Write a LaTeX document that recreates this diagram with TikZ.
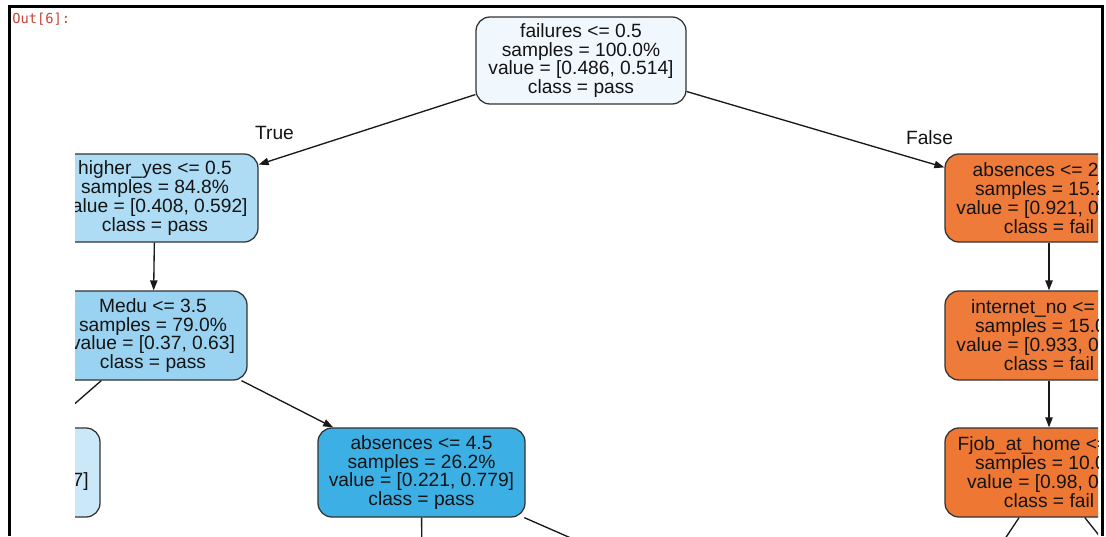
\documentclass[tikz,border=0pt]{standalone}
\usepackage{fontspec}
\setmainfont{Liberation Sans}
\newfontfamily\monofnt{DejaVu Sans Mono}
\usetikzlibrary{arrows.meta}
\definecolor{rootfill}{HTML}{F1F8FD}
\definecolor{hyfill}{HTML}{AEDCF4}
\definecolor{medufill}{HTML}{99D3F1}
\definecolor{lbfill}{HTML}{CBE8F8}
\definecolor{abfill}{HTML}{3CB0E5}
\definecolor{orfill}{HTML}{EF7B3B}
\definecolor{fjfill}{HTML}{EE7734}
\definecolor{nodeborder}{HTML}{333333}
\definecolor{outred}{HTML}{C9453A}
\begin{document}
\begin{tikzpicture}[x=0.75pt,y=-0.75pt,
  tnode/.style={draw=nodeborder, line width=0.95pt, rounded corners=10.5pt, inner sep=0pt,
    align=center, font=\fontsize{14.4}{14.2}\selectfont, text=black!92},
  lbl/.style={inner sep=0pt, font=\fontsize{14.4}{14.2}\selectfont, text=black!92},
  edge/.style={draw=black!90, line width=1pt, -{Triangle[length=7.5pt,width=5.5pt]}},
  plainedge/.style={draw=black!90, line width=1pt}]
\fill[white] (0,0) rectangle (1106,536);
\useasboundingbox (0,0) rectangle (1106,536);

% notebook frame
\draw[line width=2.25pt] (9,536) -- (9,6.5) -- (1102,6.5) -- (1102,536);
\node[anchor=west, inner sep=0pt, font=\monofnt\fontsize{10.3}{11}\selectfont, text=outred] (out) at (12,19.5) {Out[6]:};

\begin{scope}
\clip (75,9) rectangle (1098,536);
% nodes
\node[tnode, fill=rootfill, minimum width=157.5pt, minimum height=65.25pt] (root) at (581,60.5)
  {failures <= 0.5\\samples = 100.0\%\\value = [0.486, 0.514]\\class = pass};
\node[tnode, fill=hyfill, minimum width=154.5pt, minimum height=66pt] (hy) at (155,198)
  {higher\_yes <= 0.5\\samples = 84.8\%\\value = [0.408, 0.592]\\class = pass};
\node[tnode, fill=medufill, minimum width=141pt, minimum height=66.75pt] (medu) at (153,335.5)
  {Medu <= 3.5\\samples = 79.0\%\\value = [0.37, 0.63]\\class = pass};
\node[tnode, fill=lbfill, minimum width=156pt, minimum height=66.75pt] (lb) at (-4,472.5) {};
\node[lbl, anchor=east] (lbtext) at (89,482) {7]};
\node[tnode, fill=abfill, minimum width=155.25pt, minimum height=66.75pt] (ab45) at (421.5,472.5)
  {absences <= 4.5\\samples = 26.2\%\\value = [0.221, 0.779]\\class = pass};
\node[tnode, fill=orfill, minimum width=156pt, minimum height=66pt] (ab28) at (1049,198)
  {absences <= 28.5\\samples = 15.2\%\\value = [0.921, 0.079]\\class = fail};
\node[tnode, fill=orfill, minimum width=156pt, minimum height=66.75pt] (inet) at (1049,335.5)
  {internet\_no <= 0.5\\samples = 15.0\%\\value = [0.933, 0.067]\\class = fail};
\node[tnode, fill=fjfill, minimum width=156pt, minimum height=66.75pt] (fjob) at (1049,472.5)
  {Fjob\_at\_home <= 0.5\\samples = 10.0\%\\value = [0.98, 0.02]\\class = fail};

% off-picture children
\coordinate (ab45l) at (422,640);
\coordinate (ab45r) at (734,609.5);
\coordinate (fjl) at (958,609.5);
\coordinate (fjr) at (1158,609.5);

% edges
\draw[edge] (root) -- (hy);
\draw[edge] (root) -- (ab28);
\draw[edge] (hy) -- (medu);
\draw[edge] (medu) -- (ab45);
\draw[edge] (medu) -- (lb);
\draw[plainedge] (ab45) -- (ab45l);
\draw[plainedge] (ab45) -- (ab45r);
\draw[edge] (ab28) -- (inet);
\draw[edge] (inet) -- (fjob);
\draw[plainedge] (fjob) -- (fjl);
\draw[plainedge] (fjob) -- (fjr);

\node[lbl] (true) at (274.5,133) {True};
\node[lbl] (false) at (929.5,137.5) {False};
\end{scope}
\end{tikzpicture}
\end{document}
